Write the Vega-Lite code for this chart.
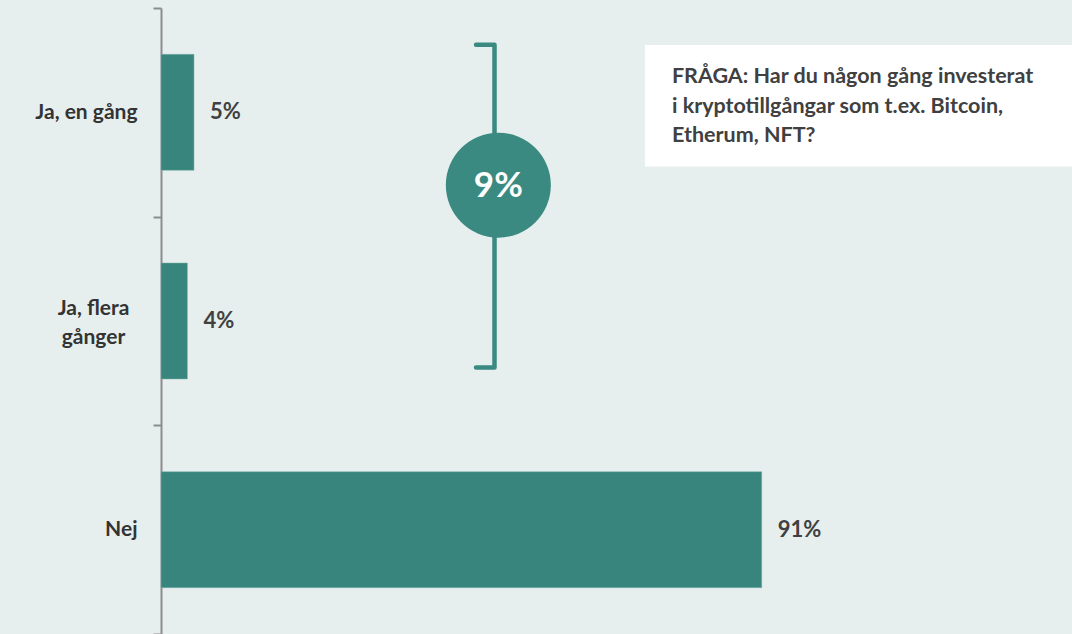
{
  "$schema": "https://vega.github.io/schema/vega-lite/v6.json",
  "autosize": "none",
  "padding": {"left": 161, "top": 8, "right": 0, "bottom": 0},
  "width": 911,
  "height": 626,
  "background": "#e6efee",
  "config": {"view": {"stroke": null}, "font": "Lato"},
  "datasets": {
    "main": [
      {"cat": "Ja, en gång", "v": 5, "lbl": "5%"},
      {"cat": "Ja, flera gånger", "v": 4, "lbl": "4%"},
      {"cat": "Nej", "v": 91, "lbl": "91%"}
    ],
    "bracket": [
      {"o": 1, "x": 47.72, "y": 0.176},
      {"o": 2, "x": 50.52, "y": 0.176},
      {"o": 3, "x": 50.52, "y": 1.7228},
      {"o": 4, "x": 47.72, "y": 1.7228}
    ],
    "circle": [{"x": 51.1, "y": 0.849, "t": "9%"}],
    "box": [{"x": 73.3, "x2": 140, "y": 0.177, "y2": 0.76}],
    "q": [
      {"x": 77.4, "y": 0.3594, "t": "FRÅGA: Har du någon gång investerat"},
      {"x": 77.4, "y": 0.503, "t": "i kryptotillgångar som t.ex. Bitcoin,"},
      {"x": 77.4, "y": 0.642, "t": "Etherum, NFT?"}
    ]
  },
  "layer": [
    {
      "data": {"name": "main"},
      "layer": [
        {
          "mark": {"type": "bar", "color": "#38857d", "stroke": "#7fb3ad", "strokeWidth": 0.5, "height": {"band": 0.556}},
          "encoding": {
            "y": {
              "field": "cat", "type": "nominal", "sort": null,
              "scale": {"paddingInner": 0, "paddingOuter": 0},
              "axis": {
                "title": null, "tickBand": "extent", "domainColor": "#8c8c8c", "domainWidth": 2,
                "tickColor": "#8c8c8c", "tickWidth": 2, "tickSize": 8,
                "labelPadding": {"condition": {"test": "datum.value == 'Ja, flera gånger'", "value": 60}, "value": 16},
                "labelAlign": {"condition": {"test": "datum.value == 'Ja, flera gånger'", "value": "center"}, "value": "right"},
                "labelFontSize": 21, "labelFontWeight": "bold", "labelColor": "#333333",
                "labelFont": "Lato", "labelLineHeight": 29, "labelLimit": 200,
                "labelOffset": {"condition": {"test": "datum.value == 'Ja, flera gånger'", "value": -13}, "value": 0},
                "labelExpr": "datum.label == 'Ja, flera gånger' ? ['Ja, flera', 'gånger'] : datum.label"
              }
            },
            "x": {"field": "v", "type": "quantitative", "scale": {"domain": [0, 138], "nice": false, "zero": true}, "axis": null}
          }
        },
        {
          "mark": {"type": "text", "align": "left", "baseline": "middle", "dx": 16, "fontSize": 22, "fontWeight": "bold", "color": "#404040", "font": "Lato"},
          "encoding": {
            "y": {"field": "cat", "type": "nominal", "sort": null},
            "x": {"field": "v", "type": "quantitative"},
            "text": {"field": "lbl"}
          }
        }
      ]
    },
    {
      "layer": [
        {
          "data": {"name": "bracket"},
          "mark": {"type": "line", "color": "#3a8a81", "strokeWidth": 4.5, "strokeJoin": "round", "strokeCap": "round"},
          "encoding": {
            "x": {"field": "x", "type": "quantitative"},
            "y": {"field": "y", "type": "quantitative", "scale": {"domain": [0, 3], "reverse": true, "nice": false, "zero": false}, "axis": null},
            "order": {"field": "o"}
          }
        },
        {
          "data": {"name": "circle"},
          "mark": {"type": "circle", "color": "#3a8a81", "opacity": 1, "size": 11025},
          "encoding": {
            "x": {"field": "x", "type": "quantitative"},
            "y": {"field": "y", "type": "quantitative"}
          }
        },
        {
          "data": {"name": "circle"},
          "mark": {"type": "text", "color": "white", "fontSize": 35, "fontWeight": "bold", "font": "Lato", "baseline": "middle", "align": "center", "dy": 1},
          "encoding": {
            "x": {"field": "x", "type": "quantitative"},
            "y": {"field": "y", "type": "quantitative"},
            "text": {"field": "t"}
          }
        },
        {
          "data": {"name": "box"},
          "mark": {"type": "rect", "color": "white", "opacity": 1},
          "encoding": {
            "x": {"field": "x", "type": "quantitative"},
            "x2": {"field": "x2"},
            "y": {"field": "y", "type": "quantitative"},
            "y2": {"field": "y2"}
          }
        },
        {
          "data": {"name": "q"},
          "mark": {"type": "text", "align": "left", "baseline": "alphabetic", "fontSize": 21.5, "fontWeight": "bold", "color": "#404040", "font": "Lato"},
          "encoding": {
            "x": {"field": "x", "type": "quantitative"},
            "y": {"field": "y", "type": "quantitative"},
            "text": {"field": "t"}
          }
        }
      ]
    }
  ],
  "resolve": {"scale": {"y": "independent"}, "axis": {"y": "independent"}}
}
